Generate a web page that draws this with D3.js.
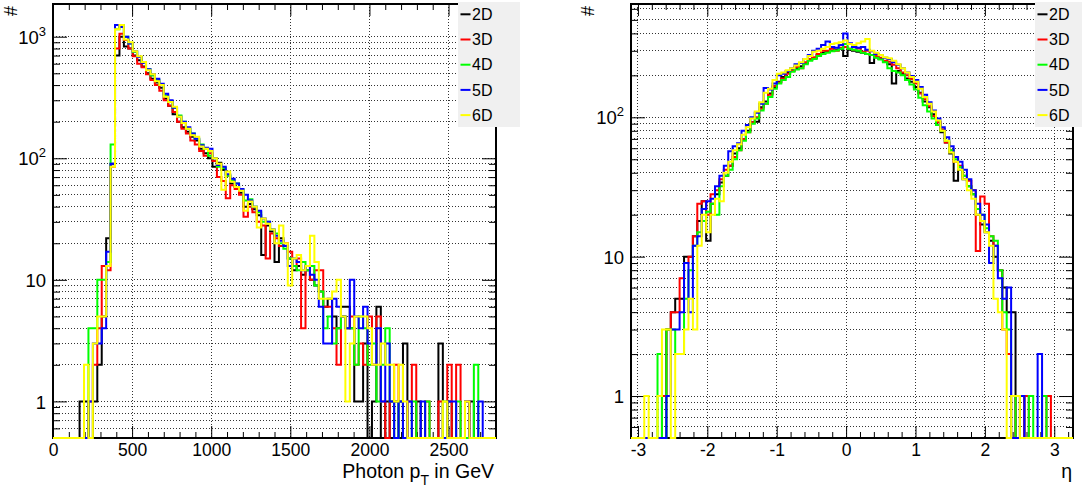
<!DOCTYPE html>
<html>
<head>
<meta charset="utf-8">
<title>Photon pT and eta</title>
<script src="https://cdn.jsdelivr.net/npm/d3@7/dist/d3.min.js"></script>
<style>
  html, body { margin: 0; padding: 0; background: #fff; }
  svg { display: block; }
  text { font-family: "Liberation Sans", Arial, Helvetica, sans-serif; fill: #000; }
</style>
</head>
<body>
<svg id="chart" width="1082" height="489"></svg>
<script>
// Samples, shared by both panels
const seriesNames = ["2D", "3D", "4D", "5D", "6D"];
const seriesColors = ["#000000", "#ff0000", "#00ff00", "#0000ff", "#ffff00"];

// Photon pT: 100 bins between 0 and 2800 GeV (entries per bin)
const ptRange = [0, 2800];
const ptBinCount = 100;
const ptTicks = [0, 500, 1000, 1500, 2000, 2500];
const ptMinorTicks = d3.range(0, 2801, 100);
const ptYTicks = [1, 10, 100, 1000];

const pt2D = [
  0, 0, 0, 0, 0, 0, 1, 1, 0, 1,
  2, 5, 22, 90, 700, 1000, 830, 800, 700, 640,
  570, 500, 450, 420, 380, 310, 270, 230, 200, 180,
  165, 150, 140, 120, 110, 100, 85, 92, 80, 72,
  62, 58, 52, 40, 42, 38, 34, 16, 28, 25,
  14, 22, 19, 15, 12, 13, 11, 12, 10, 9,
  8, 6, 7, 5, 4, 6, 6, 4, 1, 1,
  3, 0, 1, 6, 0, 1, 0, 1, 0, 3,
  0, 0, 1, 0, 0, 0, 0, 3, 0, 1,
  0, 0, 0, 0, 1, 0, 0, 0, 0, 0
];
const pt3D = [
  0, 0, 0, 0, 0, 0, 0, 0, 1, 2,
  4, 13, 12, 85, 800, 1060, 940, 800, 690, 600,
  560, 490, 440, 400, 360, 300, 270, 240, 200, 175,
  160, 140, 130, 115, 105, 110, 95, 70, 65, 47,
  60, 56, 50, 33, 40, 36, 30, 28, 15, 24,
  22, 19, 20, 17, 13, 15, 4, 13, 10, 12,
  12, 6, 6, 4, 2, 5, 4, 5, 2, 3,
  2, 5, 2, 5, 1, 0, 1, 2, 1, 0,
  1, 2, 0, 0, 1, 0, 0, 1, 0, 2,
  0, 2, 0, 1, 0, 0, 0, 0, 0, 0
];
const pt4D = [
  0, 0, 0, 0, 0, 0, 0, 0, 4, 4,
  10, 10, 14, 130, 1150, 1250, 1000, 880, 750, 680,
  620, 540, 480, 440, 400, 330, 290, 260, 225, 200,
  175, 160, 145, 130, 120, 105, 100, 85, 83, 72,
  66, 62, 55, 45, 46, 40, 36, 30, 30, 26,
  24, 20, 18, 15, 13, 12, 14, 12, 13, 9,
  8, 4, 5, 3, 4, 5, 4, 4, 2, 5,
  4, 2, 3, 1, 2, 4, 1, 0, 1, 0,
  0, 1, 0, 0, 1, 0, 0, 0, 1, 0,
  0, 1, 0, 0, 0, 2, 0, 0, 0, 0
];
const pt5D = [
  0, 0, 0, 0, 0, 0, 0, 0, 1, 3,
  3, 4, 17, 90, 1250, 1200, 1000, 880, 760, 680,
  610, 540, 490, 450, 410, 340, 300, 260, 220, 200,
  180, 160, 145, 128, 122, 120, 100, 88, 85, 74,
  68, 62, 56, 50, 45, 40, 37, 32, 30, 26,
  23, 21, 19, 13, 15, 14, 12, 13, 11, 10,
  6, 3, 3, 7, 6, 5, 4, 10, 5, 4,
  6, 3, 2, 4, 1, 3, 1, 0, 1, 0,
  1, 0, 0, 1, 0, 0, 0, 0, 0, 1,
  1, 0, 0, 1, 0, 0, 1, 0, 0, 0
];
const pt6D = [
  0, 0, 0, 0, 0, 0, 0, 2, 0, 3,
  5, 5, 13, 85, 1150, 1250, 950, 900, 760, 690,
  620, 530, 490, 430, 400, 320, 290, 265, 220, 195,
  175, 155, 150, 125, 120, 115, 100, 90, 55, 78,
  64, 58, 54, 37, 44, 40, 27, 32, 29, 26,
  20, 28, 20, 9, 15, 16, 12, 13, 23, 14,
  7, 7, 7, 8, 10, 5, 1, 3, 5, 5,
  5, 4, 2, 2, 3, 2, 2, 1, 2, 1,
  0, 0, 0, 0, 0, 0, 0, 0, 1, 0,
  0, 0, 0, 1, 0, 0, 0, 0, 0, 0
];

// Photon pseudorapidity: 100 bins between -3.1 and 3.27 (entries per bin)
const etaRange = [-3.1, 3.27];
const etaBinCount = 100;
const etaTicks = [-3, -2, -1, 0, 1, 2, 3];
const etaMinorTicks = d3.range(-30, 33, 2).map(v => v / 10);
const etaYTicks = [1, 10, 100];

const eta2D = [
  0, 0, 0, 0, 0, 0, 0, 0, 3, 4,
  5, 5, 10, 10, 14, 18, 25, 13, 24, 28,
  34, 38, 45, 55, 60, 70, 80, 92, 93, 118,
  130, 148, 165, 180, 195, 210, 218, 225, 232, 245,
  258, 265, 280, 290, 295, 300, 305, 310, 275, 305,
  300, 295, 290, 285, 245, 270, 262, 250, 240, 175,
  215, 205, 190, 180, 165, 150, 130, 118, 105, 92,
  78, 66, 55, 35, 42, 36, 32, 28, 20, 17,
  15, 13, 10, 8, 6, 4, 4, 0, 1, 0,
  0, 0, 0, 0, 0, 0, 0, 0, 0, 0
];
const eta3D = [
  0, 0, 0, 0, 0, 0, 0, 1, 3, 4,
  4, 7, 9, 10, 14, 24, 25, 20, 28, 30,
  36, 42, 45, 52, 58, 70, 78, 92, 100, 115,
  125, 145, 168, 178, 190, 205, 215, 230, 225, 248,
  262, 270, 285, 300, 300, 310, 300, 315, 320, 310,
  305, 312, 295, 300, 280, 275, 268, 255, 250, 238,
  225, 210, 200, 188, 175, 148, 135, 120, 102, 92,
  82, 66, 58, 48, 45, 38, 35, 30, 11, 27,
  24, 14, 12, 8, 3, 2, 0, 1, 0, 1,
  0, 0, 0, 0, 1, 0, 0, 0, 0, 0
];
const eta4D = [
  0, 0, 0, 0, 0, 0, 2, 0, 3, 3,
  2, 2, 5, 8, 12, 15, 18, 21, 24, 20,
  32, 38, 42, 50, 58, 68, 78, 90, 98, 112,
  125, 140, 160, 175, 185, 195, 212, 220, 225, 240,
  255, 262, 275, 285, 290, 298, 302, 310, 335, 310,
  305, 300, 290, 285, 280, 268, 260, 248, 225, 215,
  210, 200, 185, 172, 158, 138, 122, 110, 98, 88,
  80, 68, 58, 50, 44, 38, 32, 28, 22, 20,
  16, 14, 13, 8, 4, 3, 0, 1, 0, 0,
  1, 0, 0, 1, 0, 0, 0, 0, 0, 0
];
const eta5D = [
  0, 0, 0, 0, 0, 0, 0, 0, 1, 3,
  3, 4, 9, 4, 12, 14, 22, 25, 26, 32,
  38, 45, 57, 62, 65, 80, 88, 100, 108, 125,
  162, 158, 175, 200, 205, 215, 225, 240, 245, 262,
  280, 300, 310, 330, 350, 320, 315, 330, 400, 340,
  320, 315, 320, 305, 298, 285, 280, 268, 262, 248,
  238, 225, 210, 198, 185, 165, 145, 128, 112, 98,
  85, 72, 62, 52, 48, 42, 36, 30, 24, 20,
  17, 9, 12, 7, 5, 6, 0, 0, 1, 0,
  0, 0, 2, 0, 0, 0, 0, 0, 0, 0
];
const eta6D = [
  0, 0, 0, 1, 0, 0, 1, 3, 3, 0,
  2, 2, 3, 5, 3, 12, 20, 15, 20, 26,
  25, 40, 48, 58, 64, 75, 85, 98, 110, 128,
  150, 160, 185, 205, 210, 218, 225, 235, 248, 262,
  275, 295, 300, 310, 320, 335, 340, 345, 355, 335,
  330, 340, 350, 365, 300, 290, 280, 270, 265, 255,
  240, 225, 210, 195, 180, 160, 140, 125, 110, 95,
  80, 68, 56, 48, 42, 36, 30, 26, 20, 18,
  15, 12, 5, 4, 3, 0, 1, 1, 0, 0,
  0, 0, 0, 0, 0, 0, 0, 0, 0, 0
];

const ptSeries = [pt2D, pt3D, pt4D, pt5D, pt6D];
const etaSeries = [eta2D, eta3D, eta4D, eta5D, eta6D];

const svg = d3.select("#chart");
const labelSize = 17.5;

// Bin edges of a fixed-width histogram
function binEdges(range, n) {
  return d3.range(n + 1).map(i => range[0] + (range[1] - range[0]) * i / n);
}

// Log-axis grid positions: 1..9 times each power of ten inside the domain
function logSubTicks(domain) {
  const out = [];
  const e0 = Math.floor(Math.log10(domain[0]));
  const e1 = Math.ceil(Math.log10(domain[1]));
  for (let e = e0; e <= e1; e++) {
    for (let m = 1; m <= 9; m++) {
      const v = +(m * Math.pow(10, e)).toPrecision(6);
      if (v > domain[0] && v < domain[1]) out.push(v);
    }
  }
  return out;
}

function powerLabel(sel, v) {
  const e = Math.round(Math.log10(v));
  sel.text(null);
  if (e === 0) { sel.append("tspan").text("1"); return; }
  if (e === 1) { sel.append("tspan").text("10"); return; }
  sel.append("tspan").text("10");
  sel.append("tspan").attr("font-size", 13).attr("dy", -8).text(String(e));
}

function drawPanel(cfg) {
  const { left, right, top, bottom } = cfg.frame;
  const x = d3.scaleLinear().domain(cfg.xRange).range([left, right]);
  const y = d3.scaleLog().domain(cfg.yDomain).range([bottom, top]);
  const g = svg.append("g");

  const clipId = cfg.id + "-clip";
  g.append("clipPath").attr("id", clipId).append("rect")
    .attr("x", left - 1).attr("y", top - 1)
    .attr("width", right - left + 2).attr("height", bottom - top + 2);

  // dotted grid
  const grid = g.append("g")
    .attr("stroke", "#333").attr("stroke-width", 1).attr("stroke-dasharray", "1 2")
    .attr("shape-rendering", "crispEdges");
  grid.append("g").selectAll("line").data(logSubTicks(cfg.yDomain)).join("line")
    .attr("x1", left).attr("x2", right)
    .attr("y1", d => y(d)).attr("y2", d => y(d));
  grid.append("g").selectAll("line")
    .data(cfg.xTicks.filter(t => t > cfg.xRange[0] && t < cfg.xRange[1])).join("line")
    .attr("x1", d => x(d)).attr("x2", d => x(d))
    .attr("y1", top).attr("y2", bottom);

  // axes: ticks on all four sides, labels bottom and left
  const styleAxis = a => {
    a.select(".domain").remove();
    a.selectAll(".tick line").attr("stroke", "#000").attr("stroke-width", 1);
    a.attr("font-family", null).attr("font-size", labelSize);
  };
  const xMinor = cfg.xMinor.filter(t => cfg.xTicks.indexOf(t) < 0);
  const yMinor = logSubTicks(cfg.yDomain).filter(t => cfg.yTicks.indexOf(t) < 0);

  g.append("g").attr("transform", `translate(0,${bottom})`)
    .call(d3.axisBottom(x).tickValues(cfg.xTicks).tickSize(-12).tickPadding(6).tickFormat(d => String(d)))
    .call(styleAxis);
  g.append("g").attr("transform", `translate(0,${bottom})`)
    .call(d3.axisBottom(x).tickValues(xMinor).tickSize(-6).tickFormat(""))
    .call(styleAxis);
  g.append("g").attr("transform", `translate(0,${top})`)
    .call(d3.axisTop(x).tickValues(cfg.xTicks).tickSize(-12).tickFormat(""))
    .call(styleAxis);
  g.append("g").attr("transform", `translate(0,${top})`)
    .call(d3.axisTop(x).tickValues(xMinor).tickSize(-6).tickFormat(""))
    .call(styleAxis);

  const yAxisMajor = g.append("g").attr("transform", `translate(${left},0)`)
    .call(d3.axisLeft(y).tickValues(cfg.yTicks).tickSize(-14).tickPadding(7))
    .call(styleAxis);
  yAxisMajor.attr("font-size", 18.5);
  yAxisMajor.selectAll(".tick text").attr("dy", "0.36em").each(function (d) { powerLabel(d3.select(this), d); });
  g.append("g").attr("transform", `translate(${left},0)`)
    .call(d3.axisLeft(y).tickValues(yMinor).tickSize(-7).tickFormat(""))
    .call(styleAxis);
  g.append("g").attr("transform", `translate(${right},0)`)
    .call(d3.axisRight(y).tickValues(cfg.yTicks).tickSize(-14).tickFormat(""))
    .call(styleAxis);
  g.append("g").attr("transform", `translate(${right},0)`)
    .call(d3.axisRight(y).tickValues(yMinor).tickSize(-7).tickFormat(""))
    .call(styleAxis);

  // frame
  g.append("rect").attr("x", left).attr("y", top)
    .attr("width", right - left).attr("height", bottom - top)
    .attr("fill", "none").attr("stroke", "#000").attr("stroke-width", 2);

  // histograms as step outlines; empty bins sit on the lower frame edge
  const edges = binEdges(cfg.xRange, cfg.binCount);
  const ymin = cfg.yDomain[0], ymax = cfg.yDomain[1];
  const line = d3.line()
    .x(d => x(d[0]))
    .y(d => y(Math.min(ymax, Math.max(ymin, d[1]))))
    .curve(d3.curveStepAfter);
  const hg = g.append("g").attr("clip-path", `url(#${clipId})`);
  cfg.series.forEach((vals, i) => {
    const pts = vals.map((v, k) => [edges[k], v]);
    pts.push([edges[vals.length], vals[vals.length - 1]]);
    hg.append("path").datum(pts)
      .attr("d", line)
      .attr("fill", "none")
      .attr("stroke", seriesColors[i])
      .attr("stroke-width", 2)
      .attr("stroke-linejoin", "miter");
  });

  // axis titles
  const xt = g.append("text").attr("x", cfg.xTitlePos[0]).attr("y", cfg.xTitlePos[1])
    .attr("text-anchor", "end").attr("font-size", 19.5);
  cfg.xTitle.forEach(part => {
    const t = xt.append("tspan").text(part.text);
    if (part.sub) t.attr("font-size", 14).attr("dy", 7);
    if (part.after) t.attr("dy", -7);
  });
  g.append("text")
    .attr("transform", `translate(${cfg.yTitlePos[0]},${cfg.yTitlePos[1]}) rotate(-90)`)
    .attr("text-anchor", "middle").attr("font-size", 18).text("#");

  // legend
  const lg = g.append("g").attr("transform", `translate(${cfg.legend[0]},${cfg.legend[1]})`);
  lg.append("rect").attr("width", 62).attr("height", 125).attr("fill", "#f0f0f0");
  seriesNames.forEach((name, i) => {
    const cy = 12.3 + 25.2 * i;
    lg.append("line").attr("x1", 2.5).attr("x2", 12.5).attr("y1", cy).attr("y2", cy)
      .attr("stroke", seriesColors[i]).attr("stroke-width", 2);
    lg.append("text").attr("x", 14).attr("y", cy).attr("dy", "0.36em")
      .attr("font-size", 16).text(name);
  });
}

drawPanel({
  id: "pt",
  frame: { left: 53, right: 496, top: 4, bottom: 438 },
  xRange: ptRange, binCount: ptBinCount,
  xTicks: ptTicks, xMinor: ptMinorTicks,
  yDomain: [0.5, 1858], yTicks: ptYTicks,
  series: ptSeries,
  xTitle: [{ text: "Photon p" }, { text: "T", sub: true }, { text: " in GeV", after: true }],
  xTitlePos: [494, 478],
  yTitlePos: [17, 11],
  legend: [458, 2]
});

drawPanel({
  id: "eta",
  frame: { left: 631, right: 1073, top: 4, bottom: 438 },
  xRange: etaRange, binCount: etaBinCount,
  xTicks: etaTicks, xMinor: etaMinorTicks,
  yDomain: [0.5, 650], yTicks: etaYTicks,
  series: etaSeries,
  xTitle: [{ text: "\u03b7" }],
  xTitlePos: [1072, 478],
  yTitlePos: [594, 11],
  legend: [1035, 2]
});
</script>
</body>
</html>
